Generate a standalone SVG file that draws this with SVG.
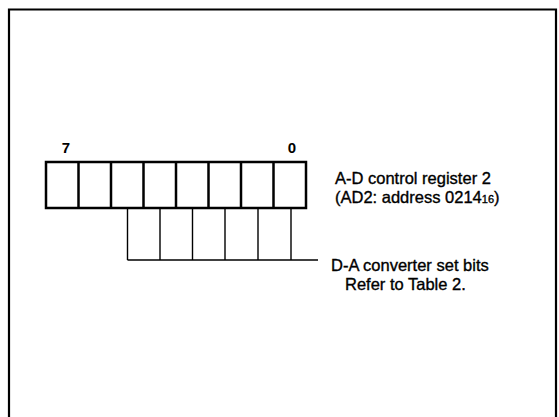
<svg xmlns="http://www.w3.org/2000/svg" width="559" height="417" viewBox="0 0 559 417">
<style>
.frame{fill:none;stroke:#000;stroke-width:2.2}
.reg{fill:none;stroke:#000;stroke-width:2.5}
.sub{fill:none;stroke:#000;stroke-width:1.4}
text{font-family:"Liberation Sans",Arial,sans-serif;fill:#000}
.lbl{font-size:16.5px;stroke:#000;stroke-width:0.35}
.bit{font-size:15px;font-weight:bold}
</style>
<rect width="559" height="417" fill="#fff"/>
<path class="frame" d="M9,418 V9.5 H556 V418"/>
<g id="register">
<rect class="reg" x="46" y="162" width="260" height="46"/>
<path class="reg" d="M78.5,162V208M111,162V208M143.5,162V208M176,162V208M208.5,162V208M241,162V208M273.5,162V208"/>
<text class="bit" x="66" y="153" text-anchor="middle">7</text>
<text class="bit" x="292" y="153" text-anchor="middle">0</text>
</g>
<g id="da-bits">
<path class="sub" d="M127.5,208V260M160,208V260M192.5,208V260M225,208V260M258,208V260M291,208V260"/>
</g>
<g id="connectors">
<path class="sub" d="M127.5,260H318"/>
</g>
<g id="label-ad2">
<text class="lbl" x="335" y="184">A-D control register 2</text>
<text class="lbl" x="335" y="203">(AD2: address 0214<tspan font-size="11">16</tspan>)</text>
</g>
<g id="label-da">
<text class="lbl" x="331" y="271">D-A converter set bits</text>
<text class="lbl" x="345" y="290">Refer to Table 2.</text>
</g>
</svg>
